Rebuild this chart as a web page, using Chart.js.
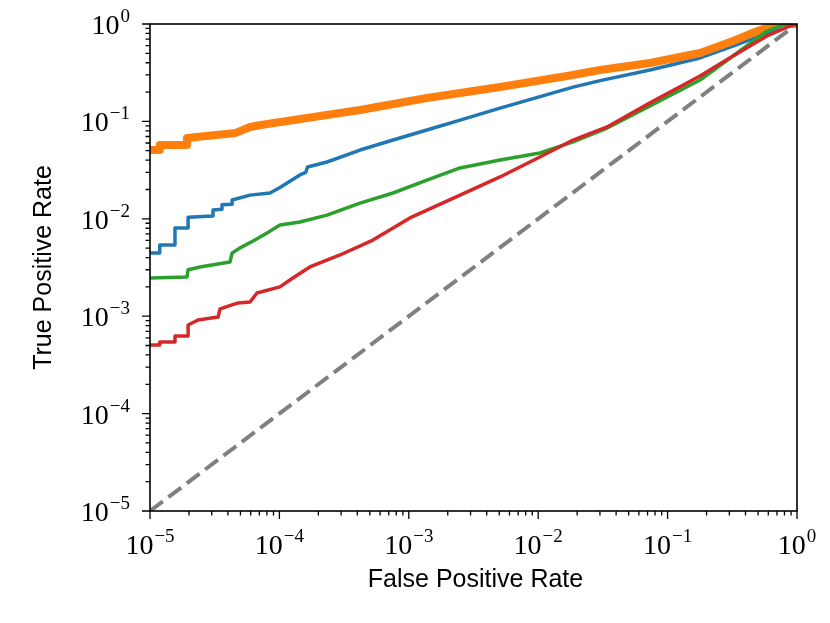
<!DOCTYPE html>
<html>
<head>
<meta charset="utf-8">
<script src="https://cdn.jsdelivr.net/npm/chart.js@4.4.1/dist/chart.umd.min.js"></script>
<style>
  html,body{margin:0;padding:0;background:#fff}
  #wrap{width:830px;height:623px}
</style>
</head>
<body>
<div id="wrap"><canvas id="roc"></canvas></div>
<script>
// curves (FPR, TPR)
const blueFpr  =[1e-5,1.19e-5,1.19e-5,1.56e-5,1.56e-5,1.97e-5,1.97e-5,3.07e-5,3.07e-5,3.6e-5,3.6e-5,4.31e-5,4.31e-5,5.93e-5,8.45e-5,1.01e-4,1.44e-4,1.6e-4,1.65e-4,2.33e-4,4.2e-4,7.55e-4,1.38e-3,2.49e-3,5.07e-3,0.0186,0.0301,0.0731,0.178,0.32,0.586,0.883,1];
const blueTpr  =[0.00446,0.00446,0.00538,0.00538,0.00805,0.00805,0.0104,0.0107,0.0123,0.0125,0.0139,0.0141,0.0156,0.0175,0.0184,0.021,0.0282,0.03,0.034,0.0383,0.0508,0.0644,0.0817,0.103,0.137,0.225,0.262,0.337,0.448,0.594,0.808,0.977,1];
const orangeFpr=[1e-5,1.19e-5,1.19e-5,1.93e-5,1.93e-5,4.6e-5,5.93e-5,7.19e-5,2.94e-4,4.2e-4,1.38e-3,5.07e-3,0.0167,0.0301,0.0731,0.178,0.32,0.518,0.74,1];
const orangeTpr=[0.0508,0.0508,0.0573,0.0573,0.0676,0.0762,0.0877,0.0918,0.122,0.131,0.174,0.2255,0.292,0.337,0.398,0.504,0.669,0.867,1,1];
const greenFpr =[1e-5,1.93e-5,1.97e-5,2.43e-5,4.15e-5,4.31e-5,4.97e-5,6.47e-5,8.02e-5,1.01e-4,1.44e-4,2.33e-4,4.2e-4,7.55e-4,1.38e-3,2.49e-3,5.07e-3,0.0103,0.0186,0.0341,0.0731,0.178,0.32,0.586,0.78,1];
const greenTpr =[0.00247,0.00252,0.003,0.0032,0.0036,0.00446,0.00503,0.00605,0.00715,0.00863,0.00927,0.0109,0.0145,0.0184,0.025,0.0333,0.0402,0.0474,0.0615,0.0855,0.144,0.266,0.469,0.847,0.977,1];
const redFpr   =[1e-5,1.19e-5,1.19e-5,1.56e-5,1.56e-5,1.97e-5,1.97e-5,2.35e-5,3.36e-5,3.48e-5,4.79e-5,5.93e-5,6.71e-5,1.01e-4,1.27e-4,1.72e-4,2.94e-4,5.28e-4,1.02e-3,2.49e-3,5.07e-3,0.0103,0.0186,0.0341,0.0731,0.178,0.32,0.586,0.883,1];
const redTpr   =[0.000506,0.000506,0.000543,0.000543,0.000627,0.000627,0.000813,0.000914,0.00098,0.00119,0.00137,0.0014,0.00173,0.002,0.00247,0.0032,0.00425,0.00605,0.0102,0.0175,0.0269,0.0431,0.0644,0.0877,0.155,0.292,0.469,0.753,0.954,1];
const chanceFpr=[1e-5,1];
const chanceTpr=[1e-5,1];

const tickExps=[-5,-4,-3,-2,-1,0];
const supDigits={'-':'\u2212','0':'0','1':'1','2':'2','3':'3','4':'4','5':'5'};

const pts=(xs,ys)=>xs.map((x,i)=>({x,y:ys[i]}));

const frame={
  id:'frame',
  afterDraw(chart){
    const {ctx,chartArea:a,scales:{x,y}}=chart;
    ctx.save();
    ctx.strokeStyle='#000';
    ctx.lineWidth=1.6;
    ctx.strokeRect(a.left,a.top,a.right-a.left,a.bottom-a.top);
    // ticks, outward, minor at 2..9
    ctx.lineWidth=1.3;
    for(const e of tickExps){
      for(let m=1;m<10;m++){
        const v=m*Math.pow(10,e);
        if(v>1)break;
        const len=m===1?8:4.5;
        const px=x.getPixelForValue(v),py=y.getPixelForValue(v);
        ctx.beginPath();
        ctx.moveTo(px,a.bottom);ctx.lineTo(px,a.bottom+len);
        ctx.moveTo(a.left,py);ctx.lineTo(a.left-len,py);
        ctx.stroke();
      }
    }
    // tick labels: 10 with raised exponent
    ctx.fillStyle='#000';
    const bigF='28px "Liberation Serif","DejaVu Serif",serif';
    const smallF='19px "Liberation Serif","DejaVu Serif",serif';
    const label=(e,cx,cy,align)=>{
      const base='10',ex=String(e).split('').map(c=>supDigits[c]).join('');
      ctx.font=bigF;
      const wb=ctx.measureText(base).width;
      ctx.font=smallF;
      const we=ctx.measureText(ex).width;
      const w=wb+we+1;
      const left=align==='center'?cx-w/2:cx-w;
      ctx.textBaseline='alphabetic';ctx.textAlign='left';
      ctx.font=bigF;
      ctx.fillText(base,left,cy+10);
      ctx.font=smallF;
      ctx.fillText(ex,left+wb+1,cy-2);
    };
    for(const e of tickExps){
      const v=Math.pow(10,e);
      label(e,x.getPixelForValue(v),a.bottom+33,'center');
      label(e,a.left-20,y.getPixelForValue(v),'right');
    }
    // axis titles
    ctx.font='25px "Liberation Sans","DejaVu Sans",sans-serif';
    ctx.textAlign='center';ctx.textBaseline='middle';
    ctx.fillText('False Positive Rate',(a.left+a.right)/2+2,580);
    ctx.translate(44,(a.top+a.bottom)/2);
    ctx.rotate(-Math.PI/2);
    ctx.fillText('True Positive Rate',0,0);
    ctx.restore();
  }
};

new Chart(document.getElementById('roc'),{
  type:'line',
  data:{datasets:[
    {data:pts(chanceFpr,chanceTpr),borderColor:'#808080',borderWidth:4,borderDash:[16,7],order:5},
    {data:pts(blueFpr,blueTpr),borderColor:'#1f77b4',borderWidth:3.5,order:4},
    {data:pts(orangeFpr,orangeTpr),borderColor:'#ff7f0e',borderWidth:8,order:3},
    {data:pts(greenFpr,greenTpr),borderColor:'#2ca02c',borderWidth:3.5,order:2},
    {data:pts(redFpr,redTpr),borderColor:'#d62728',borderWidth:3.5,order:1},
  ]},
  options:{
    responsive:true,maintainAspectRatio:false,animation:false,
    layout:{padding:{left:150,right:33,top:24,bottom:112}},
    elements:{point:{radius:0},line:{tension:0,fill:false}},
    datasets:{line:{clip:0,borderJoinStyle:'round'}},
    plugins:{legend:{display:false},tooltip:{enabled:false}},
    scales:{
      x:{type:'logarithmic',min:1e-5,max:1,display:false},
      y:{type:'logarithmic',min:1e-5,max:1,display:false}
    }
  },
  plugins:[frame]
});
</script>
</body>
</html>
